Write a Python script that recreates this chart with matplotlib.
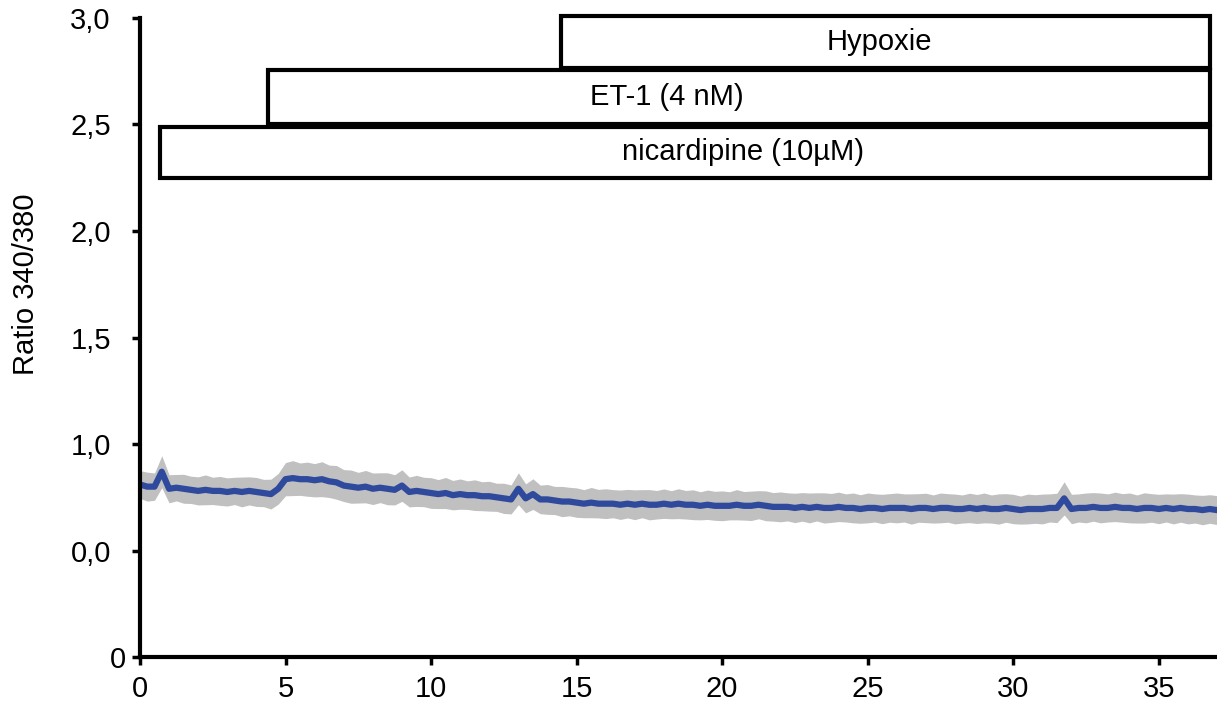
import matplotlib
matplotlib.use("Agg")
import matplotlib.pyplot as plt
from matplotlib.patches import Rectangle
import numpy as np

plt.rcParams['font.family'] = ['Liberation Sans', 'DejaVu Sans']

# Messwerte (Ratio 340/380), alle 0,25 min
dt = 0.25
ratio = [
    0.81, 0.80, 0.80, 0.87,
    0.79, 0.795, 0.79, 0.785,
    0.78, 0.785, 0.78, 0.78,
    0.775, 0.78, 0.775, 0.78,
    0.775, 0.77, 0.765, 0.79,
    0.835, 0.84, 0.835, 0.835,
    0.83, 0.835, 0.825, 0.82,
    0.805, 0.80, 0.795, 0.80,
    0.79, 0.795, 0.79, 0.785,
    0.805, 0.775, 0.78, 0.775,
    0.77, 0.765, 0.77, 0.76,
    0.765, 0.76, 0.76, 0.755,
    0.755, 0.75, 0.745, 0.74,
    0.79, 0.745, 0.765, 0.74,
    0.74, 0.735, 0.73, 0.73,
    0.725, 0.72, 0.725, 0.72,
    0.72, 0.72, 0.715, 0.72,
    0.715, 0.72, 0.715, 0.715,
    0.72, 0.715, 0.72, 0.715,
    0.715, 0.71, 0.715, 0.71,
    0.71, 0.71, 0.715, 0.71,
    0.71, 0.715, 0.71, 0.705,
    0.705, 0.705, 0.70, 0.705,
    0.70, 0.705, 0.70, 0.70,
    0.705, 0.70, 0.70, 0.695,
    0.70, 0.70, 0.695, 0.70,
    0.70, 0.70, 0.695, 0.70,
    0.70, 0.695, 0.70, 0.70,
    0.695, 0.695, 0.70, 0.695,
    0.70, 0.695, 0.695, 0.70,
    0.695, 0.69, 0.695, 0.695,
    0.695, 0.70, 0.70, 0.745,
    0.695, 0.70, 0.70, 0.705,
    0.70, 0.70, 0.705, 0.70,
    0.70, 0.695, 0.70, 0.70,
    0.695, 0.70, 0.695, 0.70,
    0.695, 0.695, 0.69, 0.695,
    0.69,
]
sem = [
    0.065, 0.068, 0.064, 0.075,
    0.066, 0.062, 0.068, 0.064,
    0.066, 0.070, 0.064, 0.068,
    0.066, 0.064, 0.070, 0.066,
    0.068, 0.064, 0.070, 0.072,
    0.078, 0.082, 0.076, 0.080,
    0.078, 0.082, 0.076, 0.079,
    0.075, 0.078, 0.072, 0.076,
    0.074, 0.070, 0.075, 0.071,
    0.074, 0.070, 0.073, 0.069,
    0.072, 0.068, 0.073, 0.069,
    0.071, 0.067, 0.072, 0.068,
    0.070, 0.066, 0.071, 0.068,
    0.075, 0.068, 0.072, 0.067,
    0.070, 0.066, 0.071, 0.067,
    0.069, 0.066, 0.071, 0.067,
    0.070, 0.066, 0.069, 0.067,
    0.070, 0.066, 0.071, 0.067,
    0.069, 0.066, 0.070, 0.067,
    0.070, 0.066, 0.069, 0.068,
    0.070, 0.066, 0.071, 0.067,
    0.069, 0.066, 0.070, 0.067,
    0.070, 0.066, 0.069, 0.067,
    0.070, 0.066, 0.071, 0.068,
    0.069, 0.066, 0.070, 0.067,
    0.070, 0.066, 0.069, 0.067,
    0.070, 0.066, 0.071, 0.067,
    0.069, 0.066, 0.070, 0.067,
    0.070, 0.066, 0.069, 0.068,
    0.070, 0.066, 0.071, 0.067,
    0.069, 0.066, 0.070, 0.067,
    0.070, 0.066, 0.069, 0.078,
    0.069, 0.066, 0.070, 0.067,
    0.070, 0.066, 0.069, 0.067,
    0.070, 0.066, 0.071, 0.067,
    0.069, 0.066, 0.070, 0.067,
    0.070, 0.066, 0.069, 0.067,
    0.068,
]

# Applikationen
behandlungen = ["nicardipine (10µM)", "ET-1 (4 nM)", "Hypoxie"]
start = [0.69, 4.4, 14.45]
ende = [36.75, 36.75, 36.75]
unten = [2.25, 2.50, 2.765]
oben = [2.49, 2.755, 3.01]
text_x = [20.7, 18.1, 25.4]

ytick_pos = [0, 0.5, 1.0, 1.5, 2.0, 2.5, 3.0]
ytick_lab = ["0", "0,0", "1,0", "1,5", "2,0", "2,5", "3,0"]
xtick_pos = [0, 5, 10, 15, 20, 25, 30, 35]

ratio = np.array(ratio)
sem = np.array(sem)
t = np.arange(len(ratio)) * dt

fig = plt.figure(figsize=(12.17, 7.05), dpi=100)
ax = fig.add_axes([0.115, 0.068, 0.885, 0.9065])

ax.fill_between(t, ratio - sem, ratio + sem, color="#c0c0c0", lw=0)
ax.plot(t, ratio, color="#2f4a9c", lw=4.5, solid_joinstyle="round")

for i in range(len(behandlungen)):
    ax.add_patch(Rectangle((start[i], unten[i]), ende[i] - start[i], oben[i] - unten[i],
                           facecolor="white", edgecolor="black", lw=3, clip_on=False, zorder=3))
    ax.text(text_x[i], (unten[i] + oben[i]) / 2, behandlungen[i], ha="center", va="center",
            fontsize=21, zorder=4)

ax.set_xlim(0, 37)
ax.set_ylim(0, 3.0)
ax.set_xticks(xtick_pos)
ax.set_yticks(ytick_pos)
ax.set_yticklabels(ytick_lab)
ax.tick_params(axis="both", direction="out", length=6, width=2.5, labelsize=21)
ax.tick_params(axis="y", pad=15)
ax.tick_params(axis="x", pad=7)
ax.yaxis.get_major_ticks()[0].set_pad(4)
ax.set_ylabel("Ratio 340/380", fontsize=21)
ax.yaxis.set_label_coords(-0.093, 0.583)

for s in ["top", "right"]:
    ax.spines[s].set_visible(False)
for s in ["left", "bottom"]:
    ax.spines[s].set_linewidth(3)

plt.savefig("out.png", dpi=100)
